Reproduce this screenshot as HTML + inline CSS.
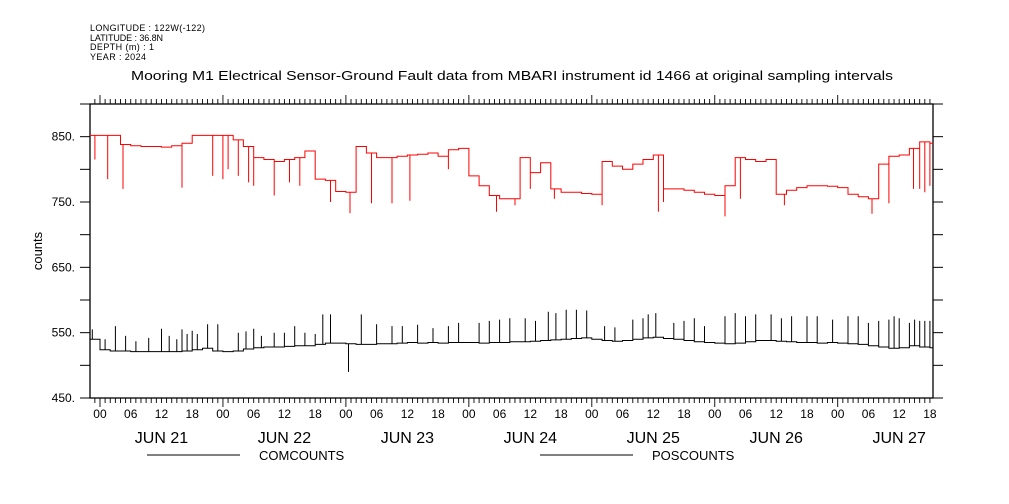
<!DOCTYPE html>
<html><head><meta charset="utf-8"><style>
body{margin:0;background:#fff}
svg{display:block;font-family:"Liberation Sans",sans-serif}
</style></head><body>
<svg id="chart" width="1009" height="504" xmlns="http://www.w3.org/2000/svg">
<g font-size="9" fill="#000">
<text x="90" y="31" textLength="115">LONGITUDE : 122W(-122)</text>
<text x="90" y="41" textLength="73">LATITUDE : 36.8N</text>
<text x="90" y="50" textLength="64">DEPTH (m) : 1</text>
<text x="90" y="60" textLength="56">YEAR : 2024</text>
</g>
<text x="131" y="80" font-size="13" textLength="762" lengthAdjust="spacingAndGlyphs">Mooring M1 Electrical Sensor-Ground Fault data from MBARI instrument id 1466 at original sampling intervals</text>
<text transform="translate(42,251) rotate(-90)" font-size="13" text-anchor="middle">counts</text>
<g id="axes"></g>
<g id="series"></g>
<g font-size="13">
<line x1="147" y1="455" x2="240" y2="455" stroke="#000"/>
<text x="259" y="460">COMCOUNTS</text>
<line x1="540" y1="455" x2="633" y2="455" stroke="#000"/>
<text x="652" y="460">POSCOUNTS</text>
</g>
</svg>
<script>
// hours since JUN 21 00:00, base values every 2 hours starting at -2
const baseStartHour = -2;
const baseStepHours = 2;
const posBase = [852,852,852,838,836,835,835,834,836,840,852,852,852,852,845,835,818,815,812,815,818,828,785,783,766,765,835,825,818,818,820,822,823,825,820,830,832,790,775,760,755,755,818,795,810,770,765,765,763,762,812,805,800,808,815,822,770,770,768,765,762,760,775,818,815,812,815,762,768,772,775,775,774,772,762,758,755,808,820,822,832,842,840];
const comBase = [540,524,522,522,521,521,521,521,521,522,524,526,522,521,522,525,527,528,528,529,530,530,532,534,534,533,532,532,533,533,534,535,534,535,534,535,535,535,534,535,535,536,536,537,538,539,540,541,542,540,538,537,538,540,542,543,541,540,538,536,535,534,533,534,536,538,538,537,536,535,535,534,535,534,533,532,530,528,526,527,530,528,527];
const posSpikeHours = [-1,1.5,4.5,16,22,24,25,27,29,30,34,37,39,45,48.8,53,57,60.5,68,77.4,81,84,88.7,98,109,110,122,125,133.6,150.7,154,158.8,160,161,162];
const posSpikeValues = [815,785,770,772,790,785,800,790,780,775,760,780,775,750,733,748,748,752,800,735,745,770,755,745,735,750,728,755,745,732,748,770,770,765,775];
const comSpikeHours = [-1.5,1,3,5,7,9.5,12,13.5,15,16,17,18,19,21,23,27,28.5,30,31.5,34,36,38,40,42,43.5,45,48.5,51,54,57,59,62,65,68,70,74,76,78,80,83,85,87.5,89,91,93,95,98.5,100.5,104,106,107,108.5,112,114,116,118,122,124,126,128,131,133,135,138,140,143,146,148,150,152,154,155,156,158,159,160,161,162];
const comSpikeValues = [555,540,560,545,537,542,556,545,540,555,548,553,548,563,563,550,552,556,545,550,550,560,550,548,578,578,490,578,563,560,560,562,557,560,565,565,568,570,572,572,568,582,580,585,585,584,560,558,570,572,578,580,565,568,572,560,575,580,575,578,578,572,575,575,575,570,575,575,565,568,570,575,572,565,570,568,568,568];
const yTicks = [450,550,650,750,850];
const dayLabels = ["JUN 21","JUN 22","JUN 23","JUN 24","JUN 25","JUN 26","JUN 27"];
const hourLabels = ["00","06","12","18"];

const L=90,R=933,T=104,B=398;
const H0=-1.95,H1=162.6,V0=450,V1=900;
function X(h){return L+(h-H0)/(H1-H0)*(R-L);}
function Y(v){return B-(v-V0)/(V1-V0)*(B-T);}
const NS="http://www.w3.org/2000/svg";
function mk(tag,attrs,parent){const e=document.createElementNS(NS,tag);for(const k in attrs)e.setAttribute(k,attrs[k]);parent.appendChild(e);return e;}
const ax=document.getElementById('axes'),se=document.getElementById('series');

const frame=mk('rect',{x:L,y:T,width:R-L,height:B-T,fill:'none',stroke:'#000','stroke-width':1.3},ax);


for(let v=450;v<=900;v+=50){
  const y=Y(v);
  mk('line',{x1:L-10,y1:y,x2:L,y2:y,stroke:'#000'},ax);
  mk('line',{x1:R,y1:y,x2:R+10,y2:y,stroke:'#000'},ax);
}
yTicks.forEach(v=>{
  const t=mk('text',{x:L-15,y:Y(v)+4,'font-size':12,'text-anchor':'end'},ax);
  t.textContent=v+'.';
  
  
});
for(let h=-1;h<=H1;h+=1){
  const x=X(h),maj=(h%24===0),len=maj?9:5;
  mk('line',{x1:x,y1:B,x2:x,y2:B+len,stroke:'#000','stroke-width':0.9},ax);
  mk('line',{x1:x,y1:T,x2:x,y2:T-len,stroke:'#000','stroke-width':0.9},ax);
  if(h>=0 && h%6===0){
    const t=mk('text',{x:x,y:418,'font-size':12,'text-anchor':'middle'},ax);
    t.textContent=hourLabels[(h%24)/6];
    
    
  }
}
dayLabels.forEach((d,i)=>{
  const t=mk('text',{x:X(i*24+12),y:443,'font-size':16,'text-anchor':'middle'},ax);
  t.textContent=d;
  
  
});
function baseAt(arr,h){let i=Math.floor((h-baseStartHour)/baseStepHours);i=Math.max(0,Math.min(arr.length-1,i));return arr[i];}
function drawSeries(base,sh,sv,color,name){
  let d='';
  base.forEach((v,i)=>{
    const h0=Math.max(H0,baseStartHour+i*baseStepHours),h1=Math.min(H1,baseStartHour+(i+1)*baseStepHours);
    d+=(i===0?'M':'L')+X(h0).toFixed(1)+','+Y(v).toFixed(1)+'L'+X(h1).toFixed(1)+','+Y(v).toFixed(1);
  });
  sh.forEach((h,i)=>{
    const b=baseAt(base,h);
    d+='M'+X(h).toFixed(1)+','+Y(b).toFixed(1)+'L'+X(h).toFixed(1)+','+Y(sv[i]).toFixed(1);
  });
  const p=mk('path',{d:d,fill:'none',stroke:color,'stroke-width':1},se);
  
  
}
drawSeries(posBase,posSpikeHours,posSpikeValues,'#ff0000','poscounts-line');
drawSeries(comBase,comSpikeHours,comSpikeValues,'#000000','comcounts-line');
</script>
</body></html>
